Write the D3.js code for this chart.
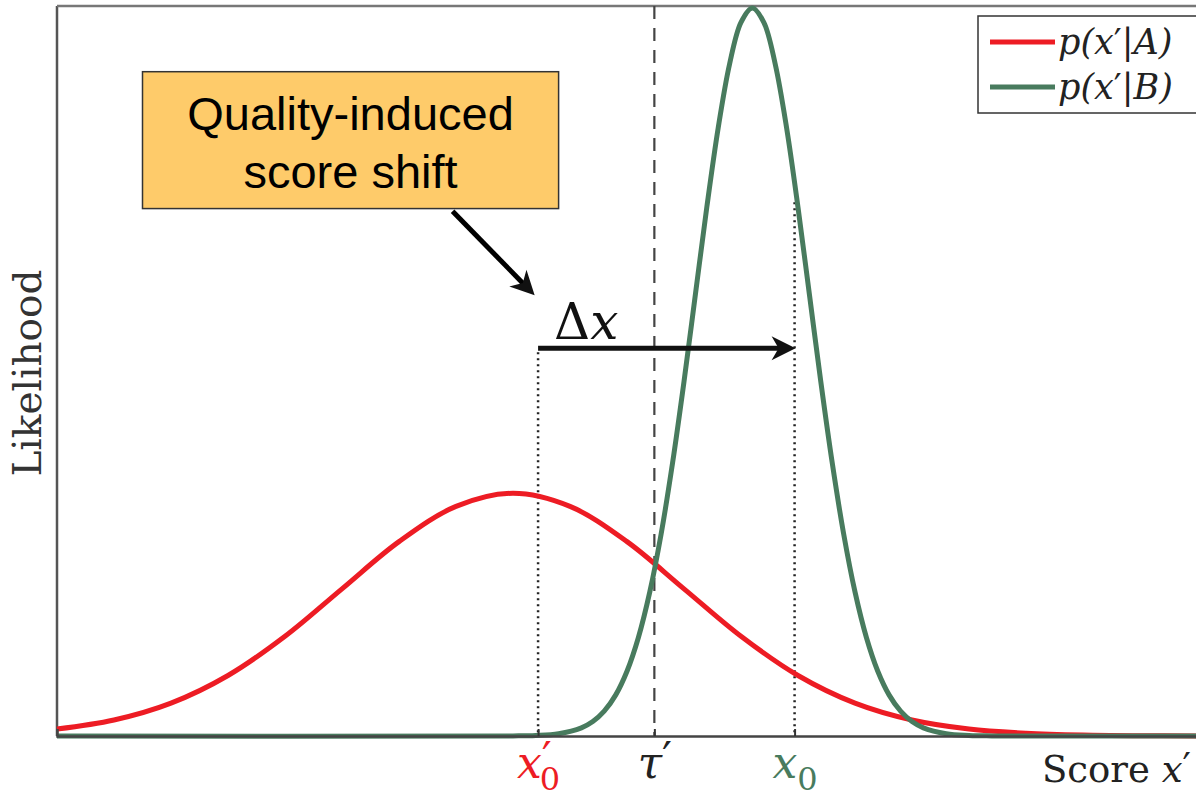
<!DOCTYPE html>
<html>
<head>
<meta charset="utf-8">
<script src="https://cdn.jsdelivr.net/npm/d3@7"></script>
<style>
  body { margin: 0; background: #fff; }
  text { font-family: "DejaVu Serif", serif; }
</style>
</head>
<body>
<div id="graph"></div>
<script>
    // p(x'|A): wide curve
    var scoreA = [-4, -3.5, -3, -2.5, -2, -1.5, -1, -0.5, 0, 0.5, 1, 1.5, 2, 2.5, 3, 3.5, 4, 4.5, 5, 5.5, 6];
    var likeA = [0.0076, 0.0175, 0.036, 0.0663, 0.1093, 0.1613, 0.213, 0.2516, 0.266, 0.2516, 0.213, 0.1613,
                 0.1093, 0.0663, 0.036, 0.0175, 0.0076, 0.003, 0.001, 0.0003, 0.0001];

    // p(x'|B): narrow curve
    var scoreB = [-4, 0, 0.2, 0.4, 0.6, 0.7, 0.8, 0.9, 1.0, 1.1, 1.2, 1.3, 1.4, 1.5, 1.6, 1.7, 1.8, 1.9, 2.0, 2.1,
                  2.2, 2.3, 2.4, 2.5, 2.6, 2.7, 2.8, 2.9, 3.0, 3.1, 3.2, 3.3, 3.4, 3.5, 3.6, 3.8, 4.0, 4.2, 6];
    var likeB = [0, 0.0001, 0.0006, 0.0025, 0.0089, 0.0158, 0.0272, 0.0448, 0.071, 0.108, 0.1579, 0.2218, 0.2995,
                 0.3884, 0.4839, 0.5794, 0.6665, 0.7365, 0.7821, 0.7979,
                 0.7821, 0.7365, 0.6665, 0.5794, 0.4839, 0.3884, 0.2995, 0.2218, 0.1579, 0.108, 0.071, 0.0448,
                 0.0272, 0.0158, 0.0089, 0.0025, 0.0006, 0.0001, 0];

    var seriesLabels = ["A", "B"];
    var seriesColors = ["#ed1c24", "#487b5e"];

    // marked scores on the x axis: x'0, tau', x0
    var markScores = [0.22, 1.24, 2.47];
    var markColors = ["#ed1c24", "#222", "#487b5e"];
    var shiftLevel = 0.425;     // height of the delta-x arrow
    var x0Top = 0.585;          // top of the dotted line at x0

    var margin = { top: 6, right: -1, bottom: 62, left: 57 },
        width = 1196 - margin.left - margin.right,
        height = 798 - margin.top - margin.bottom;

    var svg = d3.select("#graph")
        .append("svg")
        .attr("width", 1196)
        .attr("height", 798)
        .append("g")
        .attr("transform", "translate(" + margin.left + "," + margin.top + ")");

    var x = d3.scaleLinear().domain([-4, 6]).range([0, width]);
    var y = d3.scaleLinear().domain([0, 0.8]).range([height, 0]);

    // frame
    svg.append("line").attr("x1", 0).attr("x2", 0).attr("y1", 0).attr("y2", height)
        .style("stroke", "#555").style("stroke-width", 2.5);
    svg.append("line").attr("x1", 0).attr("x2", width).attr("y1", 0).attr("y2", 0)
        .style("stroke", "#777").style("stroke-width", 2.5);

    // tau' dashed line
    svg.append("line")
        .attr("x1", x(markScores[1])).attr("x2", x(markScores[1]))
        .attr("y1", 0).attr("y2", height)
        .style("stroke", "#444").style("stroke-width", 2.2)
        .style("stroke-dasharray", "13,9");

    // dotted guides
    svg.append("line")
        .attr("x1", x(markScores[0])).attr("x2", x(markScores[0]))
        .attr("y1", y(shiftLevel) + 4).attr("y2", height)
        .style("stroke", "#222").style("stroke-width", 2.5)
        .style("stroke-dasharray", "2,4");
    svg.append("line")
        .attr("x1", x(markScores[2])).attr("x2", x(markScores[2]))
        .attr("y1", y(x0Top)).attr("y2", height)
        .style("stroke", "#222").style("stroke-width", 2.5)
        .style("stroke-dasharray", "2,4");

    // curves
    var line = d3.line()
        .x(function (d) { return x(d[0]); })
        .y(function (d) { return y(d[1]); })
        .curve(d3.curveCatmullRom);

    var curves = [d3.zip(scoreA, likeA), d3.zip(scoreB, likeB)];
    svg.append("g")
        .selectAll("path")
        .data(curves)
        .enter()
        .append("path")
        .attr("d", line)
        .style("fill", "none")
        .style("stroke", function (d, i) { return seriesColors[i]; })
        .style("stroke-width", 5);

    // bottom axis with inner ticks
    var xAxis = svg.append("g")
        .attr("transform", "translate(0," + height + ")")
        .call(d3.axisBottom(x).tickValues(markScores).tickSize(-7).tickPadding(14).tickFormat(""));
    xAxis.select(".domain").style("stroke", "#444").style("stroke-width", 2.5);
    xAxis.selectAll(".tick line").style("stroke", "#333").style("stroke-width", 2);

    xAxis.selectAll(".tick text").each(function (d, i) {
        var t = d3.select(this)
            .attr("y", 42)
            .attr("dy", 0)
            .style("font-family", "DejaVu Serif, serif")
            .style("font-style", "italic")
            .style("font-size", "44px")
            .style("fill", markColors[i]);
        if (i === 1) {
            t.append("tspan").text("\u03c4");
            t.append("tspan").attr("dy", -4).style("font-style", "normal").text("\u2032");
        } else {
            t.append("tspan").text("x");
            if (i === 0) t.append("tspan").attr("dy", -4).style("font-style", "normal").text("\u2032");
            t.append("tspan").attr("dy", i === 0 ? 16 : 12).attr("dx", i === 0 ? -12 : 0)
                .style("font-style", "normal").style("font-size", "32px").text("0");
        }
    });

    // axis titles
    var scoreTitle = svg.append("text")
        .attr("x", width - 6)
        .attr("y", height + 46)
        .attr("text-anchor", "end")
        .style("font-size", "37px")
        .style("fill", "#222");
    scoreTitle.append("tspan").text("Score ");
    scoreTitle.append("tspan").style("font-style", "italic").text("x");
    scoreTitle.append("tspan").attr("dy", -3).text("\u2032");

    svg.append("text")
        .attr("transform", "translate(-16," + (height / 2 + 2) + ") rotate(-90)")
        .attr("text-anchor", "middle")
        .style("font-size", "39px")
        .style("fill", "#333")
        .text("Likelihood");

    // delta-x arrow
    function arrowHead(g, tx, ty, angle) {
        g.append("path")
            .attr("d", "M0,0 L-24,-12 L-17,0 L-24,12 Z")
            .attr("transform", "translate(" + tx + "," + ty + ") rotate(" + angle + ")")
            .style("fill", "#111");
    }
    svg.append("line")
        .attr("x1", x(markScores[0])).attr("x2", x(markScores[2]) - 12)
        .attr("y1", y(shiftLevel)).attr("y2", y(shiftLevel))
        .style("stroke", "#111").style("stroke-width", 5);
    arrowHead(svg, x(markScores[2]) + 1, y(shiftLevel), 0);

    var dx = svg.append("text")
        .attr("x", x(markScores[0]) + 16)
        .attr("y", y(shiftLevel) - 9)
        .style("font-size", "50px")
        .style("fill", "#111");
    dx.append("tspan").text("\u0394");
    dx.append("tspan").style("font-style", "italic").text("x");

    // callout box
    var boxScores = [-3.25, 0.4];
    var boxLevels = [0.728, 0.578];
    svg.append("rect")
        .attr("x", x(boxScores[0]))
        .attr("y", y(boxLevels[0]))
        .attr("width", x(boxScores[1]) - x(boxScores[0]))
        .attr("height", y(boxLevels[1]) - y(boxLevels[0]))
        .style("fill", "#fecb6a")
        .style("stroke", "#333")
        .style("stroke-width", 1.5);
    var boxMid = (x(boxScores[0]) + x(boxScores[1])) / 2;
    svg.selectAll(".callout")
        .data(["Quality-induced", "score shift"])
        .enter()
        .append("text")
        .attr("x", boxMid)
        .attr("y", function (d, i) { return y(boxLevels[0]) + 58 + i * 58; })
        .attr("text-anchor", "middle")
        .style("font-family", "Liberation Sans, Arial, sans-serif")
        .style("font-size", "47px")
        .style("fill", "#000")
        .text(function (d) { return d; });

    // callout arrow
    var calloutFrom = [-0.53, 0.575], calloutTo = [0.19, 0.483];
    var ang = Math.atan2(y(calloutTo[1]) - y(calloutFrom[1]), x(calloutTo[0]) - x(calloutFrom[0])) * 180 / Math.PI;
    svg.append("line")
        .attr("x1", x(calloutFrom[0])).attr("y1", y(calloutFrom[1]))
        .attr("x2", x(calloutTo[0]) - 12 * Math.cos(ang * Math.PI / 180))
        .attr("y2", y(calloutTo[1]) - 12 * Math.sin(ang * Math.PI / 180))
        .style("stroke", "#000").style("stroke-width", 5);
    arrowHead(svg, x(calloutTo[0]), y(calloutTo[1]), ang);

    // legend
    var legend = svg.append("g").attr("transform", "translate(" + (978 - margin.left) + "," + (16 - margin.top) + ")");
    legend.append("rect")
        .attr("width", 240).attr("height", 97)
        .style("fill", "#fff").style("stroke", "#333").style("stroke-width", 1.5);
    var rows = legend.selectAll(".row")
        .data(seriesLabels)
        .enter()
        .append("g")
        .attr("transform", function (d, i) { return "translate(0," + (26 + i * 45) + ")"; });
    rows.append("line")
        .attr("x1", 12).attr("x2", 77)
        .style("stroke", function (d, i) { return seriesColors[i]; })
        .style("stroke-width", 5);
    var lt = rows.append("text")
        .attr("x", 80)
        .attr("y", 12)
        .style("font-size", "35px")
        .style("font-style", "italic")
        .style("fill", "#222");
    lt.append("tspan").text("p(x");
    lt.append("tspan").style("font-style", "normal").text("\u2032");
    lt.append("tspan").text(function (d) { return "|" + d + ")"; });
</script>
</body>
</html>
